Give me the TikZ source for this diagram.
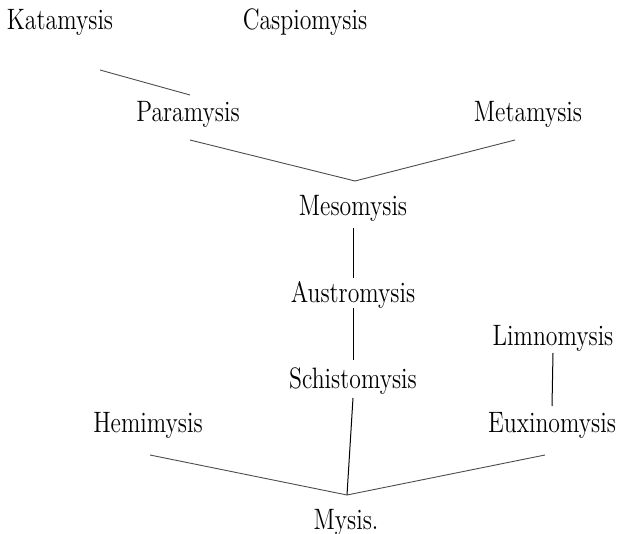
\documentclass[tikz,border=0pt]{standalone}
\usetikzlibrary{positioning}
\newcommand{\gname}[1]{\scalebox{0.95}[1.18]{#1}}
\begin{document}
\begin{tikzpicture}[x=0.5pt,y=-0.5pt,
    genus/.style={anchor=base,inner sep=1pt,font=\fontsize{12.5}{14}\selectfont},
    link/.style={line width=0.5pt},
    faint/.style={line width=0.45pt,black!70}]
    % Rahmen
    \useasboundingbox (0,0) rectangle (627,534);

    % Gattungen
    \node[genus] (kata) at (60,30) {\gname{Katamysis}};
    \node[genus] (casp) at (305,30) {\gname{Caspiomysis}};
    \node[genus] (para) at (188,122) {\gname{Paramysis}};
    \node[genus] (meta) at (528,122) {\gname{Metamysis}};
    \node[genus] (meso) at (353,216) {\gname{Mesomysis}};
    \node[genus] (aust) at (353,303) {\gname{Austromysis}};
    \node[genus] (limn) at (553,346) {\gname{Limnomysis}};
    \node[genus] (schi) at (353,388) {\gname{Schistomysis}};
    \node[genus] (hemi) at (148,432) {\gname{Hemimysis}};
    \node[genus] (euxi) at (552,432) {\gname{Euxinomysis}};
    \node[genus] (mysis) at (346,530) {\gname{Mysis.}};

    % Knotenpunkte
    \coordinate (kp) at ([shift={(2,-27)}]para.base);
    \coordinate (j1) at ([shift={(2,-35)}]meso.base);
    \coordinate (j2) at ([shift={(1,-35)}]mysis.base);

    % Verbindungen
    \draw[faint] ([shift={(40,40)}]kata.base) -- (kp);
    \draw[faint] ([shift={(2,18)}]para.base) -- (j1);
    \draw[faint] ([shift={(-13,18)}]meta.base) -- (j1);
    \draw[link] ([shift={(0,12)}]meso.base) -- ([shift={(0,-25)}]aust.base);
    \draw[link] ([shift={(0,5)}]aust.base) -- ([shift={(0,-28)}]schi.base);
    \draw[link] ([shift={(0,10)}]schi.base) -- (j2);
    \draw[faint] ([shift={(2,23)}]hemi.base) -- (j2);
    \draw[faint] ([shift={(-7,23)}]euxi.base) -- (j2);
    \draw[link] ([shift={(0,7)}]limn.base) -- ([shift={(0,-26)}]euxi.base);
\end{tikzpicture}
\end{document}
